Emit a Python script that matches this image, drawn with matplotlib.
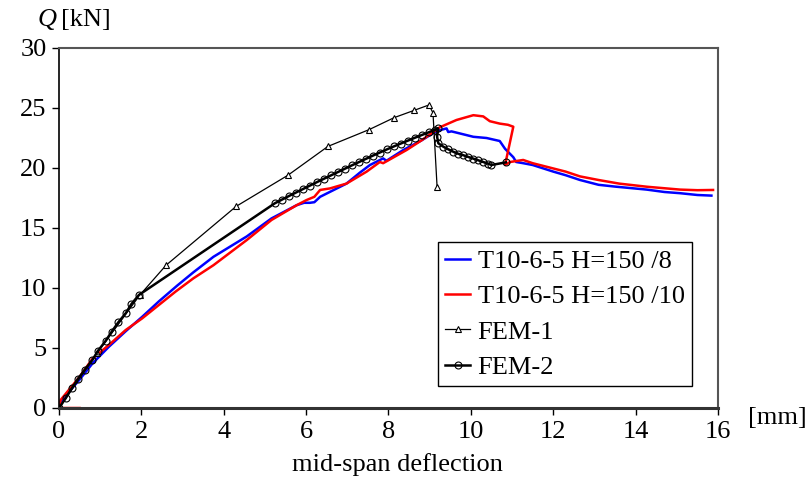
import matplotlib
matplotlib.use("Agg")
import matplotlib.pyplot as plt

plt.rcParams["font.family"] = ["Liberation Serif", "DejaVu Serif"]

# T10-6-5 H=150 /8 (blue)
blue_x = [0.0, 0.04, 0.49, 0.81, 1.21, 1.62, 2.02, 2.43, 2.87, 3.26, 3.75, 4.56, 5.16,
          5.77, 5.95, 6.09, 6.2, 6.34, 6.98, 7.3, 7.55, 7.87, 7.95, 8.36, 8.8, 9.13,
          9.3, 9.41, 9.45, 9.53, 9.65, 10.06, 10.38, 10.7, 10.83, 11.03, 11.1, 11.27,
          11.5, 12.0, 12.3, 12.65, 13.1, 13.5, 14.27, 14.7, 15.08, 15.5, 15.84]
blue_y = [0.3, 0.53, 2.33, 3.7, 5.1, 6.4, 7.6, 8.9, 10.2, 11.3, 12.6, 14.3, 15.8,
          16.9, 17.1, 17.1, 17.15, 17.6, 18.7, 19.6, 20.25, 20.8, 20.6, 21.5, 22.3, 23.0,
          23.2, 23.3, 23.0, 23.05, 22.95, 22.6, 22.5, 22.25, 21.6, 20.9, 20.5, 20.4,
          20.25, 19.7, 19.4, 19.0, 18.6, 18.45, 18.2, 18.0, 17.9, 17.75, 17.7]

# T10-6-5 H=150 /10 (red)
red_x = [0.5, 0.0, 0.04, 0.5, 0.81, 1.21, 1.62, 2.02, 2.43, 2.83, 3.26, 3.75, 4.56,
         5.16, 5.77, 6.01, 6.2, 6.34, 6.58, 6.98, 7.47, 7.79, 7.87, 8.44, 8.8, 9.13,
         9.25, 9.65, 10.06, 10.3, 10.46, 10.7, 10.9, 11.03, 10.83, 10.95, 11.27,
         11.5, 12.3, 12.65, 13.1, 13.6, 14.27, 15.08, 15.5, 15.88]
red_y = [0.0, 0.0, 0.67, 2.6, 4.1, 5.25, 6.5, 7.47, 8.6, 9.7, 10.8, 11.9, 14.0,
         15.67, 16.9, 17.33, 17.6, 18.17, 18.3, 18.7, 19.7, 20.5, 20.4, 21.5, 22.3, 23.1,
         23.4, 24.0, 24.4, 24.3, 23.9, 23.7, 23.6, 23.44, 20.25, 20.5, 20.67,
         20.4, 19.7, 19.3, 19.0, 18.7, 18.44, 18.2, 18.15, 18.17]

# FEM-1 (triangles)
fem1_x = [0.0, 0.93, 1.96, 2.6, 4.3, 5.56, 6.53, 7.53, 8.14, 8.62, 8.98, 9.08, 9.18]
fem1_y = [0.0, 4.6, 9.4, 11.9, 16.8, 19.4, 21.8, 23.2, 24.2, 24.8, 25.25, 24.6, 18.4]

# FEM-2 (circles)
fem2_x = [0.0, 0.16, 0.31, 0.46, 0.63, 0.81, 0.95, 1.13, 1.28, 1.44, 1.62, 1.76, 1.94,
          5.24, 5.41, 5.58, 5.75, 5.92, 6.09, 6.26, 6.43, 6.60, 6.77, 6.94, 7.11, 7.28,
          7.45, 7.62, 7.79, 7.96, 8.13, 8.30, 8.47, 8.64, 8.81, 8.98, 9.12, 9.2,
          9.18, 9.21, 9.33, 9.45, 9.57, 9.69, 9.82, 9.94, 10.06, 10.18, 10.30, 10.42,
          10.5, 10.85]
fem2_y = [0.0, 0.8, 1.64, 2.42, 3.2, 4.0, 4.78, 5.58, 6.36, 7.14, 7.9, 8.67, 9.42,
          17.06, 17.36, 17.66, 17.95, 18.24, 18.53, 18.82, 19.10, 19.38, 19.66, 19.94,
          20.22, 20.49, 20.76, 21.03, 21.29, 21.55, 21.80, 22.04, 22.28, 22.52, 22.75,
          22.98, 23.18, 23.3, 22.6, 22.06, 21.78, 21.56, 21.36, 21.19, 21.06, 20.92,
          20.78, 20.64, 20.5, 20.36, 20.25, 20.47]

fig = plt.figure(figsize=(8.08, 4.79), dpi=100)
ax = fig.add_axes([59 / 808, 1 - 408 / 479, (718 - 59) / 808, (408 - 48) / 479])

ax.plot(blue_x, blue_y, color="#0000ff", lw=1.8, label="T10-6-5 H=150 /8")
ax.plot(red_x, red_y, color="#ff0000", lw=1.8, label="T10-6-5 H=150 /10")
ax.plot(fem1_x, fem1_y, color="black", lw=0.9, marker="^", ms=5,
        mfc="white", mec="black", mew=0.8, label="FEM-1")
ax.plot(fem2_x, fem2_y, color="black", lw=1.8, marker="o", ms=5,
        mfc="none", mec="black", mew=0.8, label="FEM-2")

ax.set_xlim(0, 16)
ax.set_ylim(0, 30)
ax.set_xticks(range(0, 17, 2))
ax.set_yticks(range(0, 31, 5))
ax.tick_params(direction="out", length=5, width=1, labelsize=19, pad=4)

for side in ["top", "right"]:
    ax.spines[side].set_color("#555555")
    ax.spines[side].set_linewidth(1.5)
ax.spines["bottom"].set_color("#333333")
ax.spines["bottom"].set_linewidth(2.2)
ax.spines["left"].set_color("black")
ax.spines["left"].set_linewidth(1.2)

fig.text(38 / 808, 1 - 20 / 479, "Q", style="italic", fontsize=19, va="center")
fig.text(61 / 808, 1 - 20 / 479, "[kN]", fontsize=19, va="center")
fig.text(748 / 808, 1 - 418 / 479, "[mm]", fontsize=19, va="center")
fig.text(397 / 808, 1 - 465 / 479, "mid-span deflection", fontsize=19,
         ha="center", va="center")

leg = ax.legend(loc="upper left", bbox_to_anchor=(438 / 808, 1 - 242 / 479),
                bbox_transform=fig.transFigure, fontsize=19, frameon=True,
                fancybox=False, edgecolor="black", framealpha=1,
                handlelength=0.95, handletextpad=0.27, labelspacing=0.45,
                borderpad=0.28, borderaxespad=0)
leg.get_frame().set_linewidth(1.0)

fig.savefig("out.png", dpi=100)
